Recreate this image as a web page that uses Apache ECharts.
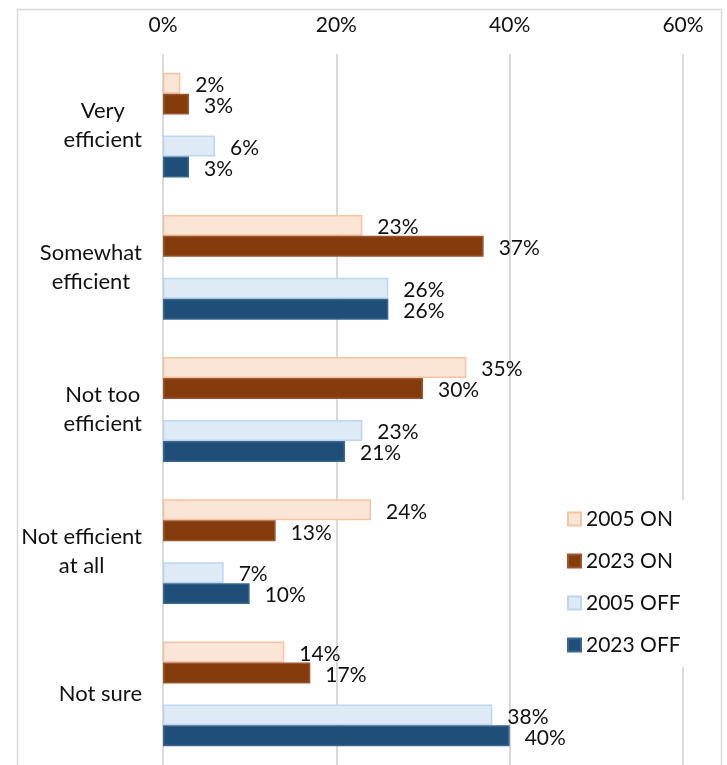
<!DOCTYPE html>
<html>
<head>
<meta charset="utf-8">
<script src="https://cdn.jsdelivr.net/npm/echarts@6/dist/echarts.min.js"></script>
<style>
html,body{margin:0;padding:0;background:#fff;}
#chart{width:727px;height:765px;}
</style>
</head>
<body>
<div id="chart"></div>
<script>
// ---- data ----
const categories = ["Very efficient", "Somewhat efficient", "Not too efficient", "Not efficient at all", "Not sure"];
const categoryLines = [["Very", "efficient"], ["Somewhat", "efficient"], ["Not too", "efficient"], ["Not efficient", "at all"], ["Not sure"]];
const seriesNames = ["2005 ON", "2023 ON", "2005 OFF", "2023 OFF"];
const on2005 = [2, 23, 35, 24, 14];
const on2023 = [3, 37, 30, 13, 17];
const off2005 = [6, 26, 23, 7, 38];
const off2023 = [3, 26, 21, 10, 40];
const spacer = [null, null, null, null, null];
const xTicks = [0, 20, 40, 60];

// ---- styles ----
const FONT = "Lato";
const fills = ["#FBE5D6", "#843C0C", "#DEEBF7", "#1F4E79"];
const borders = ["#F5C3A0", "#9C5430", "#BDD7EE", "#3A6690"];

function barSeries(i, data) {
  return {
    name: seriesNames[i],
    type: "bar",
    data: data,
    barGap: "0%",
    barCategoryGap: "26.3%",
    itemStyle: { color: fills[i], borderColor: borders[i], borderWidth: 1.5 },
    label: {
      show: true,
      position: "right",
      distance: 15,
      offset: [0, 2],
      formatter: "{c}%",
      fontFamily: FONT,
      fontSize: 21,
      color: "#111"
    },
    emphasis: { disabled: true }
  };
}

const chart = echarts.init(document.getElementById("chart"), null, { renderer: "canvas" });
chart.setOption({
  animation: false,
  backgroundColor: "#fff",
  textStyle: { fontFamily: FONT },
  graphic: [{
    type: "rect",
    left: 15, top: 7, z: -10,
    shape: { width: 704, height: 790 },
    style: { fill: "none", stroke: "#d9d9d9", lineWidth: 1.5 }
  }],
  grid: { left: 163, right: 44, top: 54, height: 712, containLabel: false },
  xAxis: {
    type: "value",
    position: "top",
    min: xTicks[0],
    max: xTicks[xTicks.length - 1],
    interval: xTicks[1] - xTicks[0],
    axisLine: { show: false },
    axisTick: { show: false },
    axisLabel: { formatter: "{value}%", fontFamily: FONT, fontSize: 21, color: "#111", margin: 18 },
    splitLine: { show: true, showMinLine: true, lineStyle: { color: "#d9d9d9", width: 2 } }
  },
  yAxis: {
    type: "category",
    inverse: true,
    data: categories,
    axisLine: { show: false },
    axisTick: { show: false },
    axisLabel: {
      margin: 21,
      formatter: function (v, idx) {
        return categoryLines[idx].map(s => "{a|" + s + "}").join("\n");
      },
      rich: { a: { align: "center", fontFamily: FONT, fontSize: 22, lineHeight: 29, color: "#111" } }
    }
  },
  legend: {
    data: seriesNames,
    orient: "vertical",
    left: 557,
    top: 500,
    padding: [7, 16, 10, 10],
    backgroundColor: "#fff",
    itemWidth: 13,
    itemHeight: 13,
    itemGap: 18,
    icon: "rect",
    selectedMode: false,
    textStyle: { fontFamily: FONT, fontSize: 21, color: "#111", lineHeight: 24, padding: [0, 0, 0, 0] }
  },
  series: [
    barSeries(0, on2005),
    barSeries(1, on2023),
    { name: "gap", type: "bar", data: spacer, barGap: "0%", barCategoryGap: "26.3%", silent: true },
    barSeries(2, off2005),
    barSeries(3, off2023)
  ]
});
</script>
</body>
</html>
